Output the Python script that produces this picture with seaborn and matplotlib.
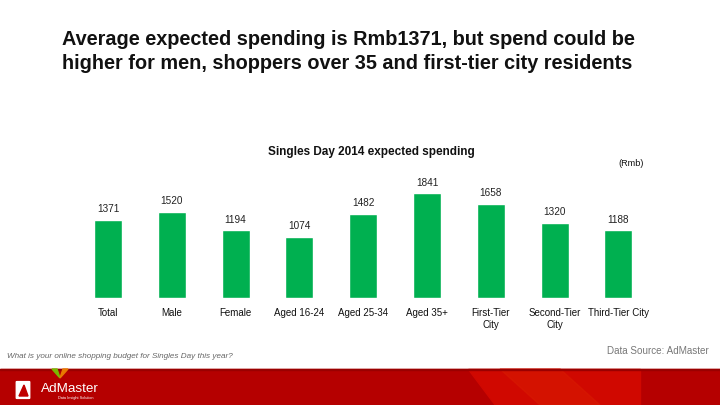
import matplotlib
matplotlib.use("Agg")
import matplotlib.pyplot as plt
import seaborn as sns
import pandas as pd
from matplotlib.patches import Polygon, Rectangle, FancyBboxPatch

categories = ["Total", "Male", "Female", "Aged 16-24", "Aged 25-34", "Aged 35+",
              "First-Tier\nCity", "Second-Tier\nCity", "Third-Tier City"]
spending = [1371, 1520, 1194, 1074, 1482, 1841, 1658, 1320, 1188]

sns.set_theme(style="white")
plt.rcParams['font.family'] = ['Liberation Sans', 'DejaVu Sans']

W, H = 720, 405
fig = plt.figure(figsize=(7.2, 4.05), dpi=100)
fig.patch.set_facecolor("white")

def fx(px):
    return px / W

def fy(py):
    return 1 - py / H

ax = fig.add_axes([fx(76.1), fy(298), 574.2 / W, 113.8 / H])
df = pd.DataFrame({"cat": categories, "val": spending})
sns.barplot(data=df, x="cat", y="val", color="#00B050", saturation=1, width=0.44, ax=ax)
ax.set_xlim(-0.5, len(categories) - 0.5)
ax.set_ylim(0, 2000)
for c in ax.containers:
    ax.bar_label(c, labels=[str(v) for v in spending], padding=4, fontsize=7.2, color="#222222")
ax.set_xlabel("")
ax.set_ylabel("")
ax.set_yticks([])
ax.tick_params(axis="x", length=0, pad=7, labelsize=7.0, labelcolor="#111111")
for lbl in ax.get_xticklabels():
    lbl.set_linespacing(1.3)
for s in ax.spines.values():
    s.set_visible(False)
ax.patch.set_alpha(0)

# Titles
fig.text(fx(62), fy(45), "Average expected spending is Rmb1371, but spend could be",
         fontsize=14.3, fontweight="bold", color="#111111", ha="left", va="baseline")
fig.text(fx(62), fy(69), "higher for men, shoppers over 35 and first-tier city residents",
         fontsize=14.3, fontweight="bold", color="#111111", ha="left", va="baseline")
fig.text(fx(371), fy(152), "Singles Day 2014 expected spending", fontsize=8.5, fontweight="bold",
         color="#111111", ha="center", va="center")
fig.text(fx(644), fy(163), "(Rmb)", fontsize=6.6, color="#111111", ha="right", va="center")

# Footer texts
fig.text(fx(7), fy(356), "What is your online shopping budget for Singles Day this year?", fontsize=5.85,
         style="italic", color="#666666", ha="left", va="center")
fig.text(fx(709), fy(351), "Data Source: AdMaster", fontsize=7.1, color="#777777", ha="right", va="center")

# Red band
fig.patches.append(Rectangle((0, 0), 1, fy(369), transform=fig.transFigure, color="#B50000", zorder=0))
fig.patches.append(Polygon([(fx(468), fy(369)), (fx(640), fy(369)), (fx(640), 0), (fx(495), 0)],
                           closed=True, transform=fig.transFigure, color="#D00800", zorder=0))
fig.patches.append(Polygon([(fx(500), fy(369)), (fx(560), fy(369)), (fx(600), 0), (fx(540), 0)],
                           closed=True, transform=fig.transFigure, color="#D81A00", zorder=0, alpha=0.6))
fig.patches.append(Rectangle((0, fy(370)), 1, 1 / H, transform=fig.transFigure, color="#9A0000", zorder=1))
# Logo
fig.patches.append(FancyBboxPatch((fx(17), fy(398)), fx(12), 16 / H, boxstyle="round,pad=0.001",
                                  transform=fig.transFigure, color="white", zorder=2))
fig.patches.append(Polygon([(fx(19), fy(396)), (fx(24), fy(385)), (fx(28), fy(396))], closed=True,
                           transform=fig.transFigure, color="#C00000", zorder=3))
fig.patches.append(Polygon([(fx(52), fy(369)), (fx(57), fy(369)), (fx(60), fy(378))], closed=True,
                           transform=fig.transFigure, color="#7AB800", zorder=3))
fig.patches.append(Polygon([(fx(63), fy(369)), (fx(68), fy(369)), (fx(60), fy(378))], closed=True,
                           transform=fig.transFigure, color="#E87A00", zorder=3))
fig.text(fx(41), fy(389), "AdMaster", fontsize=9.7, color="white", ha="left", va="center", zorder=4)
fig.text(fx(58), fy(398), "Data Insight Solution", fontsize=2.8, color="white", ha="left", va="center", zorder=4)

fig.savefig("out.png", dpi=100)
